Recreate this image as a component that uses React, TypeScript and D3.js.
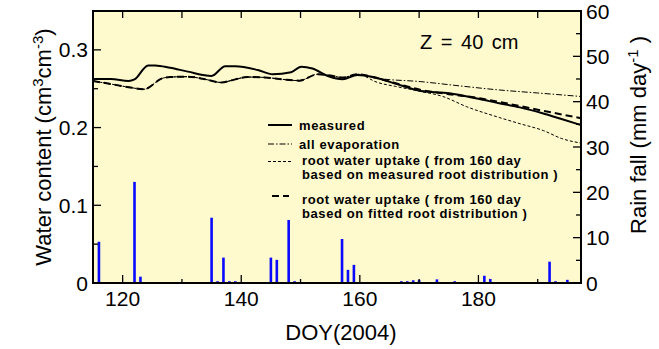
import React, { useEffect, useRef } from "react";
import * as d3 from "d3";

// rain fall bars (mm/day)
const rainDays = [116, 122, 123, 135, 136, 137, 138, 139, 145, 146, 148, 149, 157, 158, 159, 167, 168, 169, 170, 173, 176, 181, 182, 192, 193, 195];
const rainMm = [9.1, 22.3, 1.4, 14.4, 0.4, 5.6, 0.4, 0.4, 5.6, 5.1, 13.9, 0.4, 9.7, 2.9, 4.0, 0.4, 0.4, 0.6, 0.7, 0.8, 0.4, 1.6, 0.9, 4.7, 0.4, 0.7];

// measured water content
const measuredDays = [115, 118, 121, 122, 124.3, 125.5, 128, 131, 135, 137.3, 139, 142.8, 145.3, 148.4, 150.1, 152, 154.6, 157.1, 159.6, 162.4, 165.8, 170.3, 175.1, 180, 183.5, 187, 190.8, 194, 197.3];
const measuredWc = [0.2625, 0.2625, 0.26, 0.262, 0.28, 0.28, 0.277, 0.272, 0.2665, 0.279, 0.279, 0.274, 0.2686, 0.2711, 0.2784, 0.276, 0.2664, 0.2622, 0.2677, 0.2647, 0.257, 0.247, 0.2441, 0.237, 0.2313, 0.226, 0.2184, 0.211, 0.2033];

// simulations are the same until day 160
const sharedDays = [115, 118, 121, 123.6, 126.7, 128, 131, 134, 136.6, 139, 141, 144, 147, 149.8, 152.9, 155, 157.1, 159.6];
const sharedWc = [0.26, 0.256, 0.252, 0.2493, 0.2634, 0.265, 0.2655, 0.262, 0.258, 0.262, 0.265, 0.2645, 0.262, 0.2604, 0.2686, 0.267, 0.2643, 0.2686];

const evapDays = [163, 170.3, 177, 183.5, 190, 197.3];
const evapWc = [0.2634, 0.2591, 0.2535, 0.2484, 0.2445, 0.24];

const rootMeasDays = [163, 166, 170.3, 174, 178, 183.5, 187, 191, 194, 197.3];
const rootMeasWc = [0.258, 0.253, 0.2465, 0.24, 0.2269, 0.213, 0.205, 0.196, 0.186, 0.18];

const rootFitDays = [163, 166.5, 170.3, 175, 180, 183.5, 190, 197.3];
const rootFitWc = [0.2634, 0.256, 0.2484, 0.243, 0.238, 0.233, 0.223, 0.212];

const xTicks = [120, 130, 140, 150, 160, 170, 180, 190];
const xLabels = [120, 140, 160, 180];
const leftTicks = [0, 0.05, 0.1, 0.15, 0.2, 0.25, 0.3];
const leftLabels = [0, 0.1, 0.2, 0.3];
const rightTicks = [0, 5, 10, 15, 20, 25, 30, 35, 40, 45, 50, 55, 60];
const rightLabels = [0, 10, 20, 30, 40, 50, 60];

const legendLabels = [
  ["measured"],
  ["all evaporation"],
  ["root water uptake ( from 160 day", "based on measured root distribution )"],
  ["root water uptake ( from 160 day", "based on fitted root distribution )"],
];

const zip = (a: number[], b: number[]) => a.map((d, i) => [d, b[i]] as [number, number]);

const App = () => {
  const svg = useRef<SVGSVGElement>(null);

  useEffect(() => {
    const root = d3.select(svg.current);
    root.selectAll("*").remove();

    const left = 93, right = 581, top = 11, bottom = 283;
    const font = "'Liberation Sans', Arial, sans-serif";

    const x = d3.scaleLinear().domain([115, 197.3]).range([left, right]);
    const y = d3.scaleLinear().domain([0, 0.35]).range([bottom, top]);
    const yr = d3.scaleLinear().domain([0, 60]).range([bottom, top]);

    root.append("rect")
      .attr("x", left).attr("y", top)
      .attr("width", right - left).attr("height", bottom - top)
      .attr("fill", "#fffacd");

    // rain bars
    root.append("g").selectAll("rect")
      .data(zip(rainDays, rainMm))
      .join("rect")
      .attr("x", (d) => x(d[0]) - 1.3)
      .attr("width", 2.6)
      .attr("y", (d) => yr(d[1]))
      .attr("height", (d) => bottom - yr(d[1]))
      .attr("fill", "#0a0aff");

    const line = d3.line<[number, number]>()
      .x((d) => x(d[0]))
      .y((d) => y(d[1]))
      .curve(d3.curveMonotoneX);

    const shared = zip(sharedDays, sharedWc);
    const series = [
      { data: [...shared, ...zip(evapDays, evapWc)], w: 1, dash: "6,2,1.5,2" },
      { data: [...shared, ...zip(rootMeasDays, rootMeasWc)], w: 1, dash: "3,2" },
      { data: [...shared, ...zip(rootFitDays, rootFitWc)], w: 2, dash: "7,4" },
      { data: zip(measuredDays, measuredWc), w: 2, dash: null },
    ];

    root.append("g").selectAll("path")
      .data(series)
      .join("path")
      .attr("fill", "none")
      .attr("stroke", "#000")
      .attr("stroke-width", (d) => d.w)
      .attr("stroke-dasharray", (d) => d.dash)
      .attr("d", (d) => line(d.data));

    // frame
    root.append("rect")
      .attr("x", left).attr("y", top)
      .attr("width", right - left).attr("height", bottom - top)
      .attr("fill", "none").attr("stroke", "#000").attr("stroke-width", 2);

    const ticks = root.append("g").attr("stroke", "#000").attr("stroke-width", 1.3);
    xTicks.forEach((t) => {
      const len = xLabels.includes(t) ? 8 : 4;
      ticks.append("line").attr("x1", x(t)).attr("x2", x(t)).attr("y1", bottom).attr("y2", bottom - len);
      ticks.append("line").attr("x1", x(t)).attr("x2", x(t)).attr("y1", top).attr("y2", top + 7);
    });
    leftTicks.forEach((t) => {
      const len = leftLabels.includes(t) ? 8 : 5;
      ticks.append("line").attr("x1", left).attr("x2", left + len).attr("y1", y(t)).attr("y2", y(t));
    });
    rightTicks.forEach((t) => {
      const len = rightLabels.includes(t) ? 8 : 5;
      ticks.append("line").attr("x1", right).attr("x2", right - len).attr("y1", yr(t)).attr("y2", yr(t));
    });

    const labels = root.append("g").attr("font-family", font).attr("font-size", 21).attr("fill", "#000");
    xLabels.forEach((t) => {
      labels.append("text").attr("x", x(t)).attr("y", 306).attr("text-anchor", "middle").text(t);
    });
    leftLabels.forEach((t) => {
      labels.append("text").attr("x", 88).attr("y", y(t)).attr("dy", "0.36em")
        .attr("text-anchor", "end").text(t === 0 ? "0" : d3.format(".1f")(t));
    });
    rightLabels.forEach((t) => {
      labels.append("text").attr("x", 586).attr("y", yr(t)).attr("dy", "0.36em").text(t);
    });

    // axis titles
    root.append("text")
      .attr("x", 341).attr("y", 340)
      .attr("text-anchor", "middle")
      .attr("font-family", font).attr("font-size", 22)
      .text("DOY(2004)");

    const lt = root.append("text")
      .attr("transform", "translate(51,147) rotate(-90)")
      .attr("text-anchor", "middle")
      .attr("font-family", font).attr("font-size", 22);
    lt.append("tspan").text("Water content (cm");
    lt.append("tspan").attr("dy", -8).attr("font-size", 15).text("3");
    lt.append("tspan").attr("dy", 8).text("cm");
    lt.append("tspan").attr("dy", -8).attr("font-size", 15).text("-3");
    lt.append("tspan").attr("dy", 8).text(")");

    const rt = root.append("text")
      .attr("transform", "translate(646,135) rotate(-90)")
      .attr("text-anchor", "middle")
      .attr("font-family", font).attr("font-size", 22);
    rt.append("tspan").text("Rain fall (mm day");
    rt.append("tspan").attr("dy", -8).attr("font-size", 15).text("-1");
    rt.append("tspan").attr("dy", 8).text(" )");

    root.append("text")
      .attr("x", 420).attr("y", 49)
      .attr("font-family", font).attr("font-size", 20)
      .attr("word-spacing", 3)
      .text("Z = 40 cm");

    // legend
    const legY = [125, 144, 161.5, 196];
    const leg = root.append("g").attr("font-family", font).attr("font-size", 13)
      .attr("font-weight", "bold").attr("letter-spacing", 0.6);
    legendLabels.forEach((lines, i) => {
      const s = series[[3, 0, 1, 2][i]];
      leg.append("line")
        .attr("x1", i === 3 ? 272 : 268).attr("x2", i === 3 ? 289 : 292)
        .attr("y1", legY[i]).attr("y2", legY[i])
        .attr("stroke", "#000").attr("stroke-width", s.w)
        .attr("stroke-dasharray", s.dash);
      lines.forEach((t, j) => {
        leg.append("text")
          .attr("x", i < 2 ? 299 : 302)
          .attr("y", legY[i] + (i === 3 ? 7.5 : i === 2 ? 3.5 : 5) + j * 14)
          .text(t);
      });
    });
  }, []);

  return (
    <svg ref={svg} width={659} height={349} style={{ position: "absolute", left: 0, top: 0 }} />
  );
};

export default App;
